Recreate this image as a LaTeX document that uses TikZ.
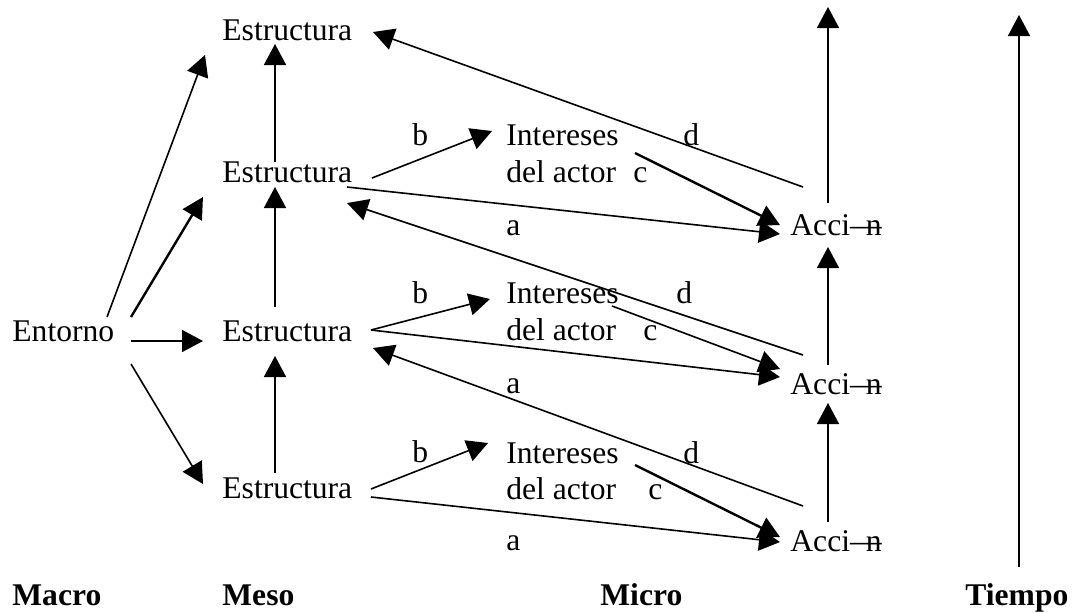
\documentclass[tikz,border=0pt]{standalone}
\usepackage{fontspec}
\setmainfont{Liberation Serif}
\usetikzlibrary{arrows.meta}
\tikzset{
  txt/.style={inner sep=0pt, anchor=base west, font=\fontsize{15.8pt}{19pt}\selectfont},
  bld/.style={inner sep=0pt, anchor=base west, font=\fontsize{15.8pt}{19pt}\selectfont\bfseries},
  arr/.style={-{Triangle[length=10.5pt,width=11pt]}, line width=0.8pt},
  heavy/.style={arr, line width=1.2pt}
}
\newcommand{\accion}{Acci\rlap{—}\hspace{0.5em}n}

\begin{document}
\begin{tikzpicture}[x=0.5pt,y=-0.5pt]
        \useasboundingbox (0,0) rectangle (1076,612);
        \node[txt](ent) at (12,341) {Entorno};
        \node[txt](e1) at (222,40) {Estructura};
        \node[txt](e2) at (222,182) {Estructura};
        \node[txt](e3) at (222,341) {Estructura};
        \node[txt](e4) at (222,498) {Estructura};
        \node[txt](i1) at (506,145) {Intereses};
        \node[txt](da1) at (506,182) {del actor};
        \node[txt](i2) at (506,303) {Intereses};
        \node[txt](da2) at (506,340) {del actor};
        \node[txt](i3) at (506,463) {Intereses};
        \node[txt](da3) at (506,499) {del actor};
        \node[txt](acc1) at (790,235) {\accion};
        \node[txt](acc2) at (790,394) {\accion};
        \node[txt](acc3) at (790,551) {\accion};
        \node[txt](lb1) at (412,145) {b};
        \node[txt](lb2) at (412,303) {b};
        \node[txt](lb3) at (412,462) {b};
        \node[txt](lc1) at (633,182) {c};
        \node[txt](lc2) at (643,340) {c};
        \node[txt](lc3) at (648,499) {c};
        \node[txt](ld1) at (683,145) {d};
        \node[txt](ld2) at (676,303) {d};
        \node[txt](ld3) at (683,463) {d};
        \node[txt](la1) at (506,235) {a};
        \node[txt](la2) at (506,393) {a};
        \node[txt](la3) at (506,550) {a};
        \node[bld](macro) at (12,605) {Macro};
        \node[bld](meso) at (222,605) {Meso};
        \node[bld](micro) at (600,605) {Micro};
        \node[bld](tie) at (965,605) {Tiempo};
        \coordinate(top) at (828,7);
        \coordinate(ttop) at (1019,15);
        \draw[arr]([shift={(95,-24)}]ent.base west)--([shift={(-17,15)}]e1.base west);
        \draw[heavy]([shift={(119,-24)}]ent.base west)--([shift={(-19,15)}]e2.base west);
        \draw[arr]([shift={(119,0)}]ent.base west)--([shift={(-19,0)}]e3.base west);
        \draw[arr]([shift={(119,23)}]ent.base west)--([shift={(-19,-14)}]e4.base west);
        \draw[arr]([shift={(53,-20)}]e2.base west)--([shift={(53,4)}]e1.base west);
        \draw[arr]([shift={(53,-34)}]e3.base west)--([shift={(53,5)}]e2.base west);
        \draw[arr]([shift={(53,-25)}]e4.base west)--([shift={(53,15)}]e3.base west);
        \draw[arr]([shift={(150,-4)}]e2.base west)--([shift={(-14,-14)}]i1.base west);
        \draw[arr]([shift={(149,-11)}]e3.base west)--([shift={(-16,-4)}]i2.base west);
        \draw[arr]([shift={(149,-9)}]e4.base west)--([shift={(-18,-20)}]i3.base west);
        \draw[arr]([shift={(125,5)}]e2.base west)--([shift={(-10,-1)}]acc1.base west);
        \draw[arr]([shift={(149,-11)}]e3.base west)--([shift={(-10,-17)}]acc2.base west);
        \draw[arr]([shift={(149,-1)}]e4.base west)--([shift={(-10,-9)}]acc3.base west);
        \draw[heavy]([shift={(129,8)}]i1.base west)--([shift={(-10,-10)}]acc1.base west);
        \draw[arr]([shift={(106,3)}]i2.base west)--([shift={(-10,-25)}]acc2.base west);
        \draw[heavy]([shift={(129,2)}]i3.base west)--([shift={(-10,-14)}]acc3.base west);
        \draw[arr]([shift={(13,-48)}]acc1.base west)--([shift={(151,-8)}]e1.base west);
        \draw[arr]([shift={(13,-39)}]acc2.base west)--([shift={(125,21)}]e2.base west);
        \draw[arr]([shift={(13,-45)}]acc3.base west)--([shift={(151,7)}]e3.base west);
        \draw[arr]([shift={(38,-32)}]acc1.base west)--(top);
        \draw[arr]([shift={(38,-29)}]acc2.base west)--([shift={(38,12)}]acc1.base west);
        \draw[arr]([shift={(38,-29)}]acc3.base west)--([shift={(38,9)}]acc2.base west);
        \draw[arr]([shift={(54,-38)}]tie.base west)--(ttop);
\end{tikzpicture}
\end{document}
